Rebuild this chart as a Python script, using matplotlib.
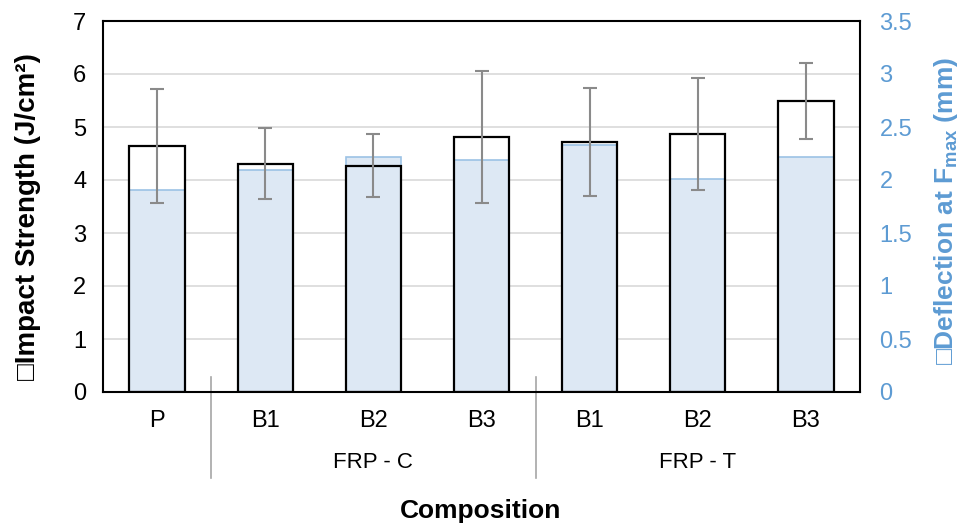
#!/usr/bin/env python3
import numpy as np
import matplotlib
matplotlib.use("Agg")
import matplotlib.pyplot as plt
from matplotlib.transforms import blended_transform_factory

plt.rcParams['font.family'] = ['Liberation Sans', 'DejaVu Sans']
plt.rcParams['mathtext.fontset'] = 'custom'
plt.rcParams['mathtext.rm'] = 'Liberation Sans'
plt.rcParams['mathtext.bf'] = 'Liberation Sans:bold'

# composition data
labels = ['P', 'B1', 'B2', 'B3', 'B1', 'B2', 'B3']
groups = ['FRP - C', 'FRP - T']
group_members = [[1, 2, 3], [4, 5, 6]]
impact = [4.64, 4.31, 4.27, 4.81, 4.71, 4.87, 5.49]       # J/cm2
impact_err = [1.07, 0.67, 0.59, 1.24, 1.02, 1.06, 0.71]
deflection = [1.91, 2.09, 2.22, 2.19, 2.33, 2.01, 2.22]   # mm

blue_fill = '#dde8f4'
blue_edge = '#9cc2e5'
blue_text = '#5d9bd3'

x = np.arange(len(labels))
w = 0.51

fig = plt.figure(figsize=(9.62, 5.25), dpi=100)
ax = fig.add_axes([103 / 962, 1 - 392 / 525, 757 / 962, 371 / 525])

# bottom layer: grid + white fill of impact bars
ax.set_ylim(0, 7)
ax.set_xlim(-0.5, len(labels) - 0.5)
ax.set_yticks(range(8))
ax.yaxis.grid(True, color='#d9d9d9', lw=1.2, zorder=0)
ax.set_axisbelow(True)
ax.bar(x, impact, w, color='white', zorder=1)
ax.set_xticks(x)
ax.set_xticklabels(labels, fontsize=17)
ax.tick_params(axis='x', length=0, pad=13)
ax.tick_params(axis='y', length=0, pad=12, labelsize=17)
for s in ax.spines.values():
    s.set_visible(False)

# middle layer: deflection bars on right axis
ax2 = ax.twinx()
ax2.set_ylim(0, 3.5)
ax2.set_yticks(np.arange(0, 3.51, 0.5))
ax2.set_yticklabels(['0', '0.5', '1', '1.5', '2', '2.5', '3', '3.5'])
ax2.bar(x, deflection, w, color=blue_fill, edgecolor=blue_edge, lw=1.2)
ax2.tick_params(axis='y', length=0, pad=14, labelsize=17, labelcolor=blue_text)
for s in ax2.spines.values():
    s.set_color('black')
    s.set_linewidth(1.5)

# top layer: impact bar outlines + error bars
ax3 = ax.twinx()
ax3.set_ylim(0, 7)
ax3.axis('off')
ax3.bar(x, impact, w, color='none', edgecolor='black', lw=1.6)
ax3.errorbar(x, impact, yerr=impact_err, fmt='none', ecolor='#8a8a8a',
             elinewidth=1.5, capsize=5, capthick=1.5)

# group separators and group labels
tr = blended_transform_factory(ax.transData, ax.transAxes)
for xs in [0.5, 3.5]:
    ax.plot([xs, xs], [0.04, -0.232], transform=tr, color='#a6a6a6',
            lw=1.2, clip_on=False)
for g, members in zip(groups, group_members):
    ax.text(np.mean(members), -0.191, g, transform=tr, ha='center',
            va='center', fontsize=16)

fig.text(481 / 962, 1 - 518 / 525, 'Composition', ha='center',
         va='baseline', fontsize=19, fontweight='bold')
fig.text(28 / 962, 1 - 217 / 525, '\u25a1Impact Strength (J/cm\u00b2)',
         rotation=90, ha='center', va='center', fontsize=20,
         fontweight='bold')
fig.text(946 / 962, 1 - 211 / 525,
         '\u25a1Deflection at F$_{\\mathbf{max}}$ (mm)',
         rotation=90, ha='center', va='center', fontsize=19,
         fontweight='bold', color=blue_text)

fig.savefig('out.png', dpi=100)
